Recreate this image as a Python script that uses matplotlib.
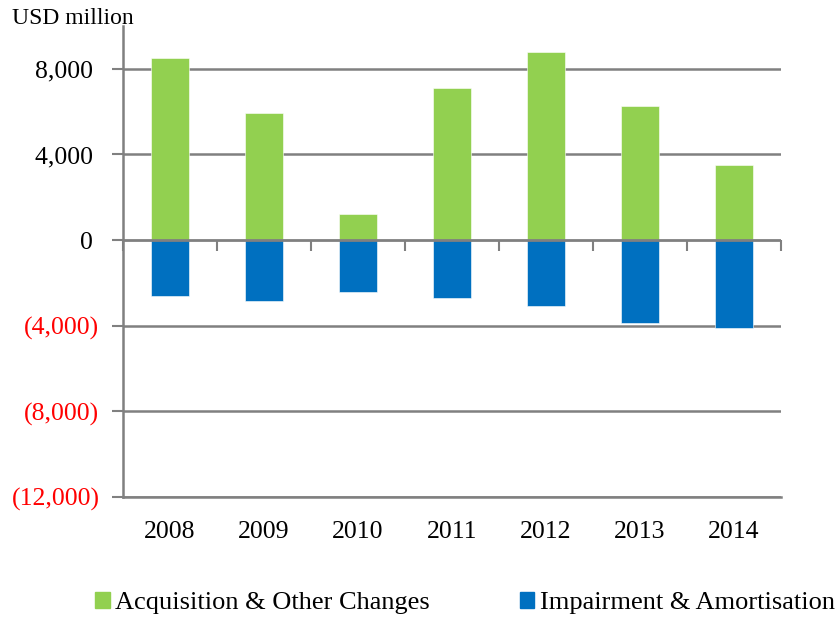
import matplotlib
matplotlib.use("Agg")
import matplotlib.pyplot as plt
import numpy as np
from matplotlib.patches import Patch

years = ["2008", "2009", "2010", "2011", "2012", "2013", "2014"]
acquisition = [8490, 5940, 1230, 7110, 8800, 6270, 3500]
impairment = [-2630, -2830, -2440, -2690, -3100, -3870, -4120]
y_ticks = [-12000, -8000, -4000, 0, 4000, 8000]

GREEN = "#92D050"
BLUE = "#0070C0"
GRID = "#808080"
FS = 18.5

plt.rcParams["font.family"] = ["Liberation Serif", "DejaVu Serif"]


def fmt(v):
    if v < 0:
        return f"({abs(v):,})"
    return f"{v:,} "


fig = plt.figure(figsize=(8.36, 6.17), dpi=100)
ax = fig.add_axes([123 / 836, 1 - 497 / 617, (781 - 123) / 836, (497 - 26) / 617])

x = np.arange(len(years))
ax.bar(x, acquisition, width=0.4, color=GREEN, edgecolor="white", linewidth=0.4, zorder=3)
ax.bar(x, impairment, width=0.4, color=BLUE, edgecolor="white", linewidth=0.4, zorder=3)

ymin, ymax = -12000, 10000
ax.set_ylim(ymin, ymax)
ax.set_xlim(-0.5, len(years) - 0.5)

ax.set_yticks(y_ticks)
ax.set_yticklabels([fmt(v) for v in y_ticks], fontsize=FS)
for lab, v in zip(ax.get_yticklabels(), y_ticks):
    lab.set_color("red" if v < 0 else "black")
ax.tick_params(axis="y", length=8, width=1.5, color=GRID, pad=9)

ax.set_xticks(x)
ax.set_xticklabels(years, fontsize=FS)
ax.tick_params(axis="x", length=0, pad=17)

for v in y_ticks:
    if v != 0:
        ax.axhline(v, color=GRID, lw=1.8, zorder=1)
# zero axis line, drawn over the bars
ax.axhline(0, color=GRID, lw=2.0, zorder=4)

for side in ["top", "right"]:
    ax.spines[side].set_visible(False)
ax.spines["left"].set_color(GRID)
ax.spines["left"].set_linewidth(1.8)
ax.spines["bottom"].set_color(GRID)
ax.spines["bottom"].set_linewidth(1.8)

# category boundary ticks on the zero line
zero_loc = (0 - ymin) / (ymax - ymin)
sec = ax.secondary_xaxis(zero_loc)
sec.set_xticks(np.arange(len(years) + 1) - 0.5)
sec.set_xticklabels([])
sec.xaxis.set_ticks_position("bottom")
sec.tick_params(axis="x", direction="out", length=8, width=1.5, color=GRID)
for sp in sec.spines.values():
    sp.set_visible(False)

fig.text(12 / 836, 1 - 18 / 617, "USD million", fontsize=17, va="center", ha="left")

handles = [Patch(color=GREEN), Patch(color=BLUE)]
fig.legend(handles, ["Acquisition & Other Changes", "Impairment & Amortisation"],
           loc="center", bbox_to_anchor=(465 / 836, 1 - 603 / 617), ncol=2, frameon=False,
           fontsize=19, handlelength=0.55, handleheight=0.55, handletextpad=0.2,
           columnspacing=3.4, borderpad=0, borderaxespad=0)

fig.savefig("out.png", dpi=100)
